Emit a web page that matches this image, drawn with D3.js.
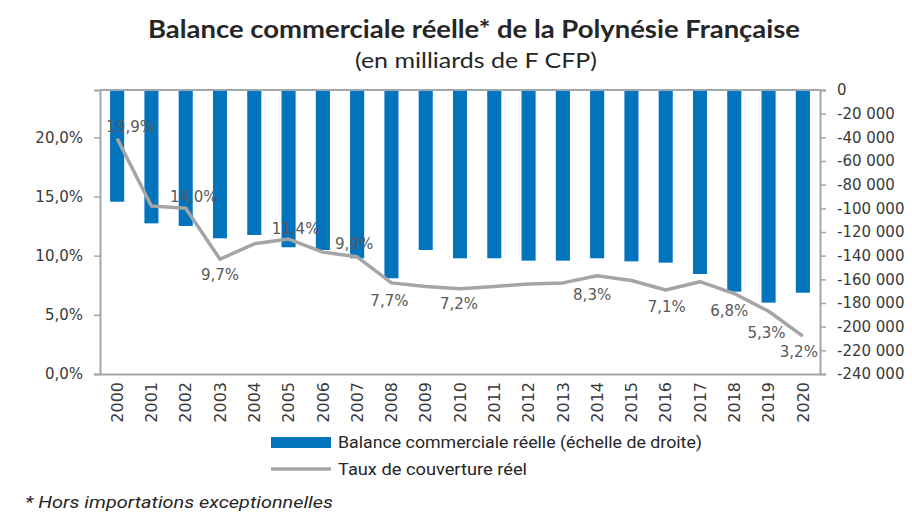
<!DOCTYPE html>
<html>
  <head>
    <meta charset="utf-8">
    <title>Balance commerciale réelle</title>
    <script src="https://cdn.jsdelivr.net/npm/d3@7/dist/d3.min.js"></script>
    <style>
      body
      {
        margin: 0px;
        padding: 0px;
        background: white;
      }

      .tick text
      {
        font-family: "DejaVu Sans", Verdana, sans-serif;
        font-size: 15px;
        fill: #3a3a3a;
      }

      .label
      {
        font-family: "DejaVu Sans", Verdana, sans-serif;
        font-size: 15px;
        fill: #595959;
        text-anchor: middle;
        dominant-baseline: middle;
      }

      .title
      {
        font-family: Lato, "Open Sans", sans-serif;
        fill: #262626;
        text-anchor: middle;
      }

      .legend
      {
        font-family: "Liberation Sans Narrow", Roboto, sans-serif;
        font-size: 17px;
        fill: #262626;
      }
    </style>
  </head>
  <body>
    <svg id="chart"></svg>

    <script>

      //--- Data
      var years = ["2000", "2001", "2002", "2003", "2004", "2005", "2006", "2007", "2008", "2009", "2010",
                   "2011", "2012", "2013", "2014", "2015", "2016", "2017", "2018", "2019", "2020"];

      var balance = [-94400, -112700, -114900, -125300, -122500, -132900, -135200, -142200, -159100, -135200, -142200,
                     -142200, -144200, -144200, -142200, -144800, -145900, -155500, -170400, -179700, -171300];

      var coverage = [0.199, 0.142, 0.140, 0.097, 0.110, 0.114, 0.103, 0.099, 0.077, 0.074, 0.072,
                      0.074, 0.076, 0.077, 0.083, 0.079, 0.071, 0.078, 0.068, 0.053, 0.032];

      var leftTicks = [0, 0.05, 0.10, 0.15, 0.20];
      var rightTicks = d3.range(0, -240001, -20000);

      //--- Which points carry a label, and where it sits relative to the point
      var labelYears = ["2000", "2002", "2003", "2005", "2007", "2008", "2010", "2014", "2016", "2018", "2019", "2020"];
      var labelOffsets = [[13, -11], [8, -11], [0, 16], [7, -10], [-3, -12], [-2, 19],
                          [-1, 16], [-5, 20], [1, 18], [-5, 18], [-2, 22], [-4, 16]];

      var width = 912;
      var height = 512;
      var plot = { left: 100, right: 820, top: 90, bottom: 374 };

      var svg = d3.select("#chart")
          .attr("width", width)
          .attr("height", height);

      var locale = d3.formatLocale({ decimal: ",", thousands: " ", grouping: [3], currency: ["", ""], minus: "-" });
      var fmtPct = locale.format(".1%");
      var fmtNum = locale.format(",d");

      //--- Scales
      var x = d3.scaleBand()
          .domain(years)
          .range([plot.left, plot.right])
          .paddingInner(0.59)
          .paddingOuter(0.295);

      var yLeft = d3.scaleLinear()
          .domain([0, 0.24])
          .range([plot.bottom, plot.top]);

      var yRight = d3.scaleLinear()
          .domain([-240000, 0])
          .range([plot.bottom, plot.top]);

      //--- Bars (hanging down from zero)
      svg.append("g")
          .selectAll("rect")
          .data(years)
          .enter()
            .append("rect")
              .attr("x", d => x(d))
              .attr("width", x.bandwidth())
              .attr("y", yRight(0))
              .attr("height", (d, i) => yRight(balance[i]) - yRight(0))
              .attr("fill", "#0273bd");

      //--- Top border of the plot
      var axisColor = "#a3a6aa";
      svg.append("line")
          .attr("x1", plot.left).attr("x2", plot.right)
          .attr("y1", plot.top).attr("y2", plot.top)
          .attr("stroke", axisColor).attr("stroke-width", 2);

      //--- Axes
      var gLeft = svg.append("g")
          .attr("transform", "translate(" + plot.left + ",0)")
          .call(d3.axisLeft(yLeft).tickValues(leftTicks).tickFormat(fmtPct).tickSize(6).tickPadding(11));

      var gRight = svg.append("g")
          .attr("transform", "translate(" + plot.right + ",0)")
          .call(d3.axisRight(yRight).tickValues(rightTicks).tickFormat(fmtNum).tickSize(6).tickPadding(11));

      var gBottom = svg.append("g")
          .attr("transform", "translate(0," + plot.bottom + ")")
          .call(d3.axisBottom(x).tickSize(0).tickSizeOuter(0).tickPadding(0));

      gBottom.selectAll("text")
          .attr("transform", "rotate(-90)")
          .attr("text-anchor", "end")
          .attr("dy", "0.36em")
          .attr("x", -8)
          .attr("y", 0)
          .style("font-size", "16px");

      [gLeft, gRight, gBottom].forEach(function (g)
      {
        g.select(".domain").attr("stroke", axisColor).attr("stroke-width", 2);
        g.selectAll(".tick line").attr("stroke", axisColor).attr("stroke-width", 1.5);
      });

      //--- Coverage line
      var line = d3.line()
          .x((d, i) => x(years[i]) + x.bandwidth() / 2)
          .y(d => yLeft(d));

      svg.append("path")
          .datum(coverage)
          .attr("d", line)
          .attr("fill", "none")
          .attr("stroke", "#a5a5a5")
          .attr("stroke-width", 3.5)
          .attr("stroke-linejoin", "round");

      //--- Data labels
      svg.append("g")
          .selectAll("text")
          .data(labelYears)
          .enter()
            .append("text")
              .classed("label", true)
              .attr("x", (d, i) => x(d) + x.bandwidth() / 2 + labelOffsets[i][0])
              .attr("y", (d, i) => yLeft(coverage[years.indexOf(d)]) + labelOffsets[i][1])
              .text(d => fmtPct(coverage[years.indexOf(d)]));

      //--- Titles
      svg.append("text")
          .classed("title", true)
          .attr("x", 474).attr("y", 38)
          .attr("font-size", "24px")
          .attr("font-weight", "bold")
          .attr("textLength", 652)
          .attr("lengthAdjust", "spacingAndGlyphs")
          .text("Balance commerciale réelle* de la Polynésie Française");

      svg.append("text")
          .classed("title", true)
          .attr("x", 476).attr("y", 68)
          .attr("font-size", "22px")
          .attr("textLength", 242)
          .attr("lengthAdjust", "spacingAndGlyphs")
          .text("(en milliards de F CFP)");

      //--- Legend
      var legend = svg.append("g");

      legend.append("rect")
          .attr("x", 271).attr("y", 437)
          .attr("width", 60).attr("height", 11)
          .attr("fill", "#0273bd");

      legend.append("text")
          .classed("legend", true)
          .attr("x", 338).attr("y", 448)
          .attr("textLength", 364)
          .attr("lengthAdjust", "spacingAndGlyphs")
          .text("Balance commerciale réelle (échelle de droite)");

      legend.append("line")
          .attr("x1", 271).attr("x2", 331)
          .attr("y1", 469).attr("y2", 469)
          .attr("stroke", "#a5a5a5")
          .attr("stroke-width", 3.5);

      legend.append("text")
          .classed("legend", true)
          .attr("x", 338).attr("y", 475)
          .attr("textLength", 189)
          .attr("lengthAdjust", "spacingAndGlyphs")
          .text("Taux de couverture réel");

      //--- Footnote
      svg.append("text")
          .classed("legend", true)
          .attr("x", 25).attr("y", 508)
          .attr("font-style", "italic")
          .attr("textLength", 308)
          .attr("lengthAdjust", "spacingAndGlyphs")
          .text("* Hors importations exceptionnelles");

    </script>
  </body>
</html>
